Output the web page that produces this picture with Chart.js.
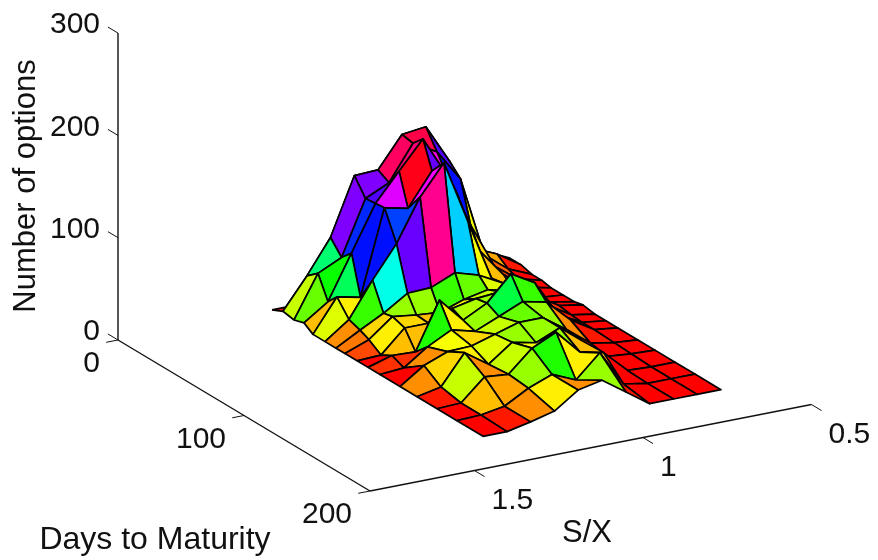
<!DOCTYPE html>
<html>
<head>
<meta charset="utf-8">
<title>Number of options by days to maturity and S/X</title>
<script src="https://cdn.jsdelivr.net/npm/chart.js@4/dist/chart.umd.js"></script>
<style>
  html, body { margin: 0; padding: 0; background: #fff; overflow: hidden; }
  canvas { display: block; filter: blur(0.4px); }
</style>
</head>
<body>
<canvas id="surface" width="878" height="560"></canvas>
<script>
// Grid lines of the surface
const daysToMaturity = [0, 8.7, 17.5, 25.4, 32.5, 42.1, 50.8, 57.9, 67.5, 76.2, 85.7, 101.6, 115.1, 131, 146.8, 167.5];
const moneyness = [1.353, 1.282, 1.212, 1.141, 1.071, 1.0, 0.929, 0.859, 0.788, 0.718, 0.647];

// Number of options, one row per entry of daysToMaturity, one column per entry of moneyness
const numberOfOptions = [
  [0, 0, 0, 0, 0, 0, 0, 5, 20, 16, 5],
  [5, 35, 68, 124, 125, 155, 158, 120, 30, 20, 5],
  [3, 44, 55, 108, 119, 153, 140, 109, 30, 12, 2],
  [6, 22, 65, 109, 136, 163, 123, 70, 25, 8, 2],
  [0, 32, 27, 110, 105, 137, 113, 50, 22, 5, 0],
  [0, 17, 51, 82, 123, 152, 90, 30, 12, 2, 0],
  [0, 13, 25, 40, 41, 51, 44, 32, 20, 4, 0],
  [0, 9, 27, 24, 22, 30, 35, 30, 20, 6, 2],
  [0, 1, 23, 23, 33, 38, 40, 35, 18, 4, 0],
  [0, 7, 6, 52, 28, 40, 64, 51, 15, 3, 0],
  [0, 2, 18, 30, 24, 34, 44, 39, 17, 3, 0],
  [0, 16, 25, 26, 33, 40, 40, 24, 6, 2, 0],
  [0, 5, 34, 18, 35, 30, 40, 22, 3, 1, 0],
  [0, 1, 22, 20, 41, 52, 28, 23, 1, 0, 0],
  [0, 1, 5, 18, 27, 17, 39, 4, 0, 0, 0],
  [0, 0, 5, 11, 27, 32, 16, 0, 0, 0, 0]
];

const countTicks = [0, 100, 200, 300];
const dayTicks = [0, 100, 200];
const moneynessTicks = [0.5, 1, 1.5];

const countTitle = 'Number of options';
const dayTitle = 'Days to Maturity';
const moneynessTitle = 'S/X';

const colorMax = 165; // top of the hsv colormap
const sxOrigin = 1.81; // S/X where the axes meet

// Oblique view of the box: (days, S/X, count) -> page position
function project(days, sx, count) {
  return {
    x: 118 + 1.26 * days + 337 * (sxOrigin - sx),
    y: 340 + 0.755 * days - 66 * (sxOrigin - sx) - 1.023 * count
  };
}

// MATLAB style hsv colormap with 64 steps
function hsvColor(count) {
  const step = Math.min(63, Math.floor(count / colorMax * 64));
  return `hsl(${step / 64 * 360}, 100%, 50%)`;
}

function lineDataset(points, width) {
  return {
    data: points,
    showLine: true,
    fill: false,
    borderColor: '#111',
    borderWidth: width,
    pointRadius: 0,
    tension: 0,
    order: 0
  };
}

// Faces are painted back to front, colour comes from the back corner on the far S/X side
function buildFaces() {
  const faces = [];
  for (let m = 0; m < daysToMaturity.length - 1; m++) {
    for (let k = moneyness.length - 2; k >= 0; k--) {
      const corner = (a, b) => project(daysToMaturity[a], moneyness[b], numberOfOptions[a][b]);
      const first = corner(m, k);
      faces.push({
        data: [first, corner(m, k + 1), corner(m + 1, k + 1), corner(m + 1, k), first],
        showLine: true,
        fill: 'shape',
        backgroundColor: hsvColor(numberOfOptions[m][k + 1]),
        borderColor: '#000',
        borderWidth: 1.7,
        borderJoinStyle: 'round',
        pointRadius: 0,
        tension: 0,
        order: 1000 - faces.length
      });
    }
  }
  return faces;
}

function buildAxes() {
  const axes = [];
  const farDays = dayTicks[dayTicks.length - 1];
  const topCount = countTicks[countTicks.length - 1];
  const lowSx = moneynessTicks[0];
  axes.push(lineDataset([project(0, sxOrigin, 0), project(0, sxOrigin, topCount)], 1.4));
  axes.push(lineDataset([project(0, sxOrigin, 0), project(farDays, sxOrigin, 0)], 1.4));
  axes.push(lineDataset([project(farDays, sxOrigin, 0), project(farDays, lowSx, 0)], 1.4));
  countTicks.forEach(c => axes.push(lineDataset([project(0, sxOrigin, c), project(-8, sxOrigin, c)], 1)));
  dayTicks.forEach(d => axes.push(lineDataset([project(d, sxOrigin, 0), project(d, sxOrigin + 0.035, 0)], 1)));
  moneynessTicks.forEach(s => axes.push(lineDataset([project(farDays, s, 0), project(farDays + 8, s, 0)], 1)));
  return axes;
}

const axisText = {
  id: 'axisText',
  afterDatasetsDraw(chart) {
    const { ctx, scales: { x, y } } = chart;
    const put = (text, px, py, align, dx, dy) => {
      ctx.textAlign = align;
      ctx.fillText(text, x.getPixelForValue(px) + dx, y.getPixelForValue(py) + dy);
    };
    ctx.save();
    ctx.fillStyle = '#111';
    ctx.textBaseline = 'middle';
    ctx.font = '30px "Liberation Sans", Arial, sans-serif';
    countTicks.forEach(c => {
      const p = project(0, sxOrigin, c);
      put(String(c), p.x, p.y, 'right', -18, -8);
    });
    dayTicks.forEach(d => {
      const p = project(d, sxOrigin, 0);
      put(String(d), p.x, p.y, 'right', -18, 24);
    });
    moneynessTicks.forEach(s => {
      const p = project(dayTicks[dayTicks.length - 1], s, 0);
      put(String(s), p.x, p.y, 'left', 17, 30);
    });
    ctx.font = '32px "Liberation Sans", Arial, sans-serif';
    put(dayTitle, 155, 540, 'center', 0, 0);
    ctx.font = '31px "Liberation Sans", Arial, sans-serif';
    put(moneynessTitle, 587, 533, 'center', 0, 0);
    ctx.translate(x.getPixelForValue(26), y.getPixelForValue(186));
    ctx.rotate(-Math.PI / 2);
    ctx.textAlign = 'center';
    ctx.fillText(countTitle, 0, 0);
    ctx.restore();
  }
};

new Chart(document.getElementById('surface'), {
  type: 'scatter',
  data: { datasets: [...buildFaces(), ...buildAxes()] },
  options: {
    responsive: false,
    animation: false,
    layout: { padding: 0 },
    plugins: {
      legend: { display: false },
      tooltip: { enabled: false },
      title: { display: false }
    },
    scales: {
      x: { type: 'linear', min: 0, max: 878, display: false },
      y: { type: 'linear', min: 0, max: 560, reverse: true, display: false }
    }
  },
  plugins: [axisText]
});
</script>
</body>
</html>
